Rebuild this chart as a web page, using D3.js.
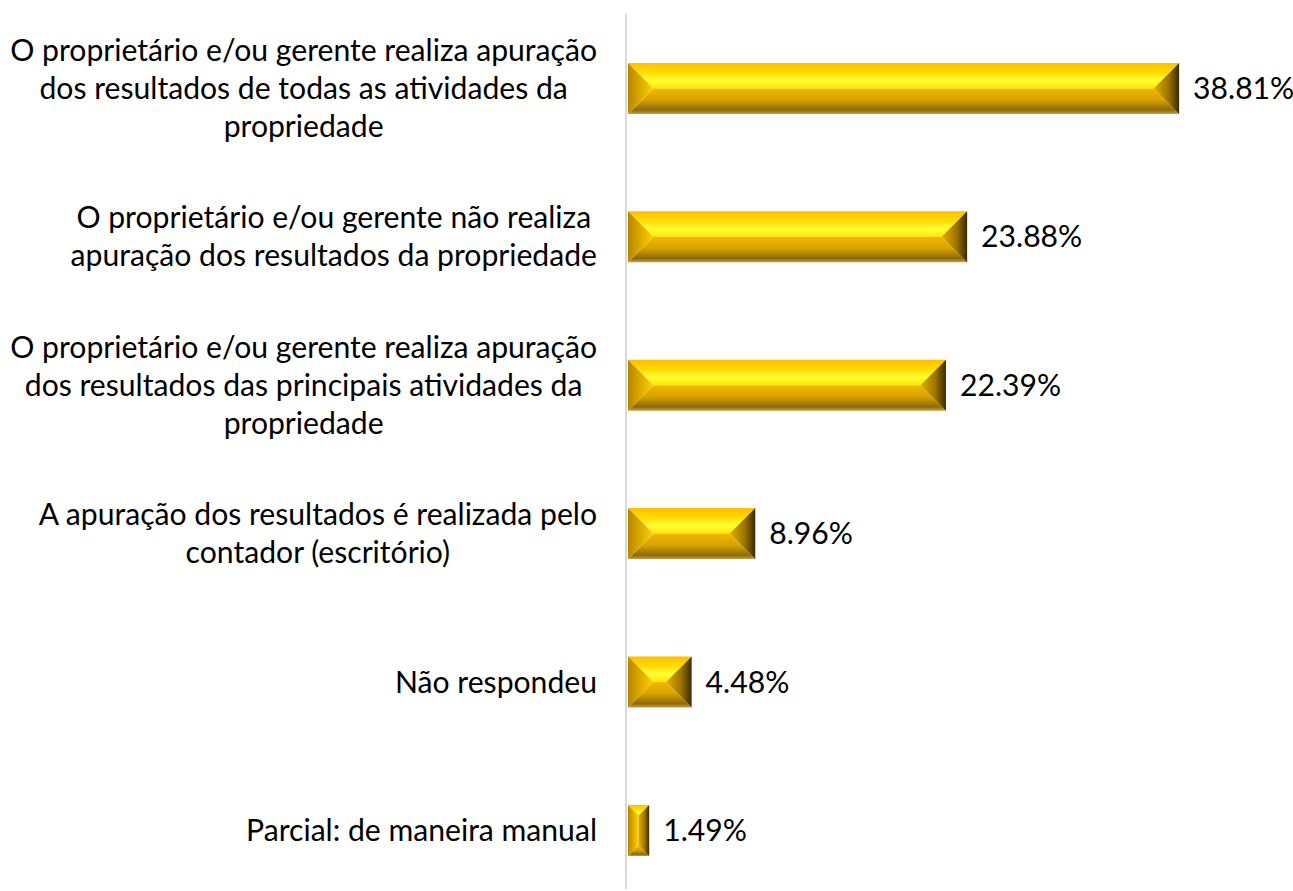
<!DOCTYPE html>
<html>
<head>
<meta charset="utf-8">
<script src="https://cdn.jsdelivr.net/npm/d3@7"></script>
<style>
  html, body { margin: 0; padding: 0; background: #ffffff; }
  svg { display: block; }
</style>
</head>
<body>
<svg id="chart" width="1293" height="891"></svg>
<script>
// ---- data ----
const categories = [
  "O proprietário e/ou gerente realiza apuração dos resultados de todas as atividades da propriedade",
  "O proprietário e/ou gerente não realiza apuração dos resultados da propriedade",
  "O proprietário e/ou gerente realiza apuração dos resultados das principais atividades da propriedade",
  "A apuração dos resultados é realizada pelo contador (escritório)",
  "Não respondeu",
  "Parcial: de maneira manual"
];
const labelLines = [
  ["O proprietário e/ou gerente realiza apuração", "dos resultados de todas as atividades da", "propriedade"],
  ["O proprietário e/ou gerente não realiza", "apuração dos resultados da propriedade"],
  ["O proprietário e/ou gerente realiza apuração", "dos resultados das principais atividades da", "propriedade"],
  ["A apuração dos resultados é realizada pelo", "contador (escritório)"],
  ["Não respondeu"],
  ["Parcial: de maneira manual"]
];
const values = [38.81, 23.88, 22.39, 8.96, 4.48, 1.49];
const valueLabels = ["38.81%", "23.88%", "22.39%", "8.96%", "4.48%", "1.49%"];

// ---- layout ----
const svg = d3.select("#chart");
const fontFamily = "Lato, 'Open Sans', sans-serif";
const plotLeft = 628, plotTop = 14.2, plotBottom = 904.6;

const x = d3.scaleLinear().domain([0, 40]).range([plotLeft, plotLeft + 40 * 14.2]);
const y = d3.scaleBand().domain(categories).range([plotTop, plotBottom])
  .paddingInner(0.656).paddingOuter(0.328);

// font size fitted to reference label width
const probe = svg.append("text").attr("font-family", fontFamily).attr("font-size", 30)
  .text(labelLines[0][0]);
const w30 = probe.node().getComputedTextLength();
probe.remove();
const fontSize = 30 * 587 / w30;
const lineH = 38;

// ---- gradients ----
const defs = svg.append("defs");
function grad(id, x2, y2, stops) {
  const g = defs.append("linearGradient").attr("id", id)
    .attr("x1", 0).attr("y1", 0).attr("x2", x2).attr("y2", y2);
  stops.forEach(s => g.append("stop").attr("offset", s[0]).attr("stop-color", s[1]));
}
grad("gTop", 0, 1, [[0, "#FFBF00"], [0.35, "#FFD800"], [0.7, "#FFFF33"], [1, "#FFE600"]]);
grad("gBot", 0, 1, [[0, "#F0B800"], [0.45, "#D9A200"], [0.85, "#8C6A0C"], [1, "#C9A040"]]);
grad("gLeft", 1, 0, [[0, "#B98600"], [1, "#FFD200"]]);
grad("gRight", 1, 0, [[0, "#E6AE00"], [0.6, "#9A7200"], [1, "#3A2A00"]]);

// ---- axis line ----
svg.append("line")
  .attr("x1", plotLeft - 2).attr("x2", plotLeft - 2)
  .attr("y1", 14).attr("y2", 889)
  .attr("stroke", "#D9D9D9").attr("stroke-width", 2);

// ---- bars (bevelled) ----
const bars = svg.append("g").selectAll("g.bar")
  .data(categories.map((c, i) => ({ c, v: values[i], i })))
  .join("g").attr("class", "bar");

bars.each(function(d) {
  const g = d3.select(this);
  const x0 = x(0), x1 = x(d.v), y0 = y(d.c), y1 = y0 + y.bandwidth();
  const b = Math.min(y.bandwidth() / 2, (x1 - x0) / 2);
  const pt = p => p.map(q => q.join(",")).join(" ");
  g.append("polygon").attr("fill", "url(#gTop)")
    .attr("points", pt([[x0, y0], [x1, y0], [x1 - b, y0 + b], [x0 + b, y0 + b]]));
  g.append("polygon").attr("fill", "url(#gBot)")
    .attr("points", pt([[x0 + b, y1 - b], [x1 - b, y1 - b], [x1, y1], [x0, y1]]));
  g.append("polygon").attr("fill", "url(#gLeft)")
    .attr("points", pt([[x0, y0], [x0 + b, y0 + b], [x0 + b, y1 - b], [x0, y1]]));
  g.append("polygon").attr("fill", "url(#gRight)")
    .attr("points", pt([[x1, y0], [x1, y1], [x1 - b, y1 - b], [x1 - b, y0 + b]]));
  // inner middle band if bar longer than bevel
  if (y.bandwidth() > 2 * b) {
    g.append("rect").attr("x", x0 + b).attr("y", y0 + b)
      .attr("width", Math.max(0, x1 - x0 - 2 * b)).attr("height", y1 - y0 - 2 * b)
      .attr("fill", "#F5C000");
  }
});

// ---- value labels ----
svg.append("g").selectAll("text")
  .data(categories.map((c, i) => ({ c, v: values[i], t: valueLabels[i] })))
  .join("text")
  .attr("x", d => x(d.v) + 14)
  .attr("y", d => y(d.c) + y.bandwidth() / 2)
  .attr("dy", "0.35em")
  .attr("font-family", fontFamily)
  .attr("font-size", fontSize)
  .attr("fill", "#000")
  .text(d => d.t);

// ---- category labels (block right-aligned, lines centred) ----
const labelRight = 597;
const lg = svg.append("g");
categories.forEach((c, i) => {
  const lines = labelLines[i];
  const t = lg.append("text")
    .attr("font-family", fontFamily).attr("font-size", fontSize).attr("fill", "#000");
  const spans = lines.map((ln, k) => t.append("tspan").text(ln));
  const widths = spans.map(s => s.node().getComputedTextLength());
  const maxW = d3.max(widths);
  const cx = labelRight - maxW / 2;
  const cy = y(c) + y.bandwidth() / 2;
  spans.forEach((s, k) => {
    s.attr("x", cx).attr("text-anchor", "middle")
     .attr("y", cy + (k - (lines.length - 1) / 2) * lineH)
     .attr("dy", "0.35em");
  });
});
</script>
</body>
</html>
